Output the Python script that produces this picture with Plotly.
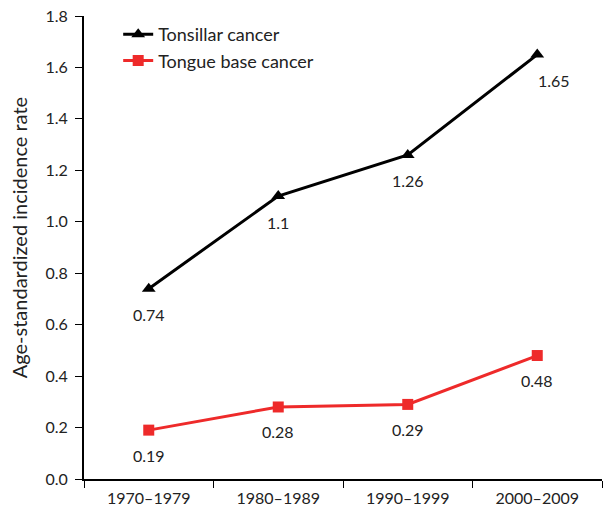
import plotly.graph_objects as go

periods = ["1970–1979", "1980–1989", "1990–1999", "2000–2009"]
tonsillar = [0.74, 1.1, 1.26, 1.65]
tongue_base = [0.19, 0.28, 0.29, 0.48]
tonsillar_labels = ["0.74", "1.1", "1.26", "1.65"]
tongue_labels = ["0.19", "0.28", "0.29", "0.48"]
y_ticks = [0.0, 0.2, 0.4, 0.6, 0.8, 1.0, 1.2, 1.4, 1.6, 1.8]
y_title = "Age-standardized incidence rate"

FONT = "Lato, Open Sans, sans-serif"
TXT = "#222222"

fig = go.Figure()
fig.add_trace(go.Scatter(
    x=periods, y=tonsillar, mode="lines+markers", name="Tonsillar cancer",
    line=dict(color="black", width=3),
    marker=dict(symbol="triangle-up", size=12, color="black"),
))
fig.add_trace(go.Scatter(
    x=periods, y=tongue_base, mode="lines+markers", name="Tongue base cancer",
    line=dict(color="#ee2a2a", width=3),
    marker=dict(symbol="square", size=11, color="#ee2a2a"),
))

for i, (p, v, t) in enumerate(zip(periods, tonsillar, tonsillar_labels)):
    fig.add_annotation(x=p, y=v, text=t, showarrow=False, yshift=-26,
                       xshift=17 if i == 3 else 0,
                       font=dict(family=FONT, size=16, color=TXT))
for i, (p, v, t) in enumerate(zip(periods, tongue_base, tongue_labels)):
    fig.add_annotation(x=p, y=v, text=t, showarrow=False, yshift=-25,
                       font=dict(family=FONT, size=16, color=TXT))

fig.add_annotation(x=0, y=0.52, xref="paper", yref="paper", text=y_title,
                   textangle=-90, showarrow=False, xanchor="center", yanchor="middle",
                   xshift=-65, font=dict(family=FONT, size=20, color=TXT))

fig.update_layout(
    width=603, height=514,
    margin=dict(l=84, r=1, t=16, b=35),
    plot_bgcolor="white", paper_bgcolor="white",
    font=dict(family=FONT, size=16, color=TXT),
    showlegend=True,
    legend=dict(x=0.066, y=1.0, xanchor="left", yanchor="top",
                bgcolor="rgba(0,0,0,0)", font=dict(family=FONT, size=18, color=TXT),
                tracegroupgap=0),
)
fig.update_xaxes(
    type="category", range=[-0.5, 3.5], automargin=False,
    showline=True, linecolor="black", linewidth=2,
    ticks="outside", tickson="boundaries", ticklen=7, tickcolor="black", tickwidth=1,
    ticklabelstandoff=4,
    showgrid=False, zeroline=False, tickfont=dict(family=FONT, size=16, color=TXT),
)
fig.update_yaxes(
    range=[0, 1.8], tickvals=y_ticks, ticktext=[f"{v:.1f}" for v in y_ticks],
    automargin=False,
    showline=True, linecolor="black", linewidth=2,
    ticks="outside", ticklen=7, tickcolor="black", tickwidth=1,
    ticklabelstandoff=4,
    showgrid=False, zeroline=False,
    tickfont=dict(family=FONT, size=16, color=TXT),
)

fig.write_html("out.html", post_script="document.body.style.margin='0';",
               config={"displayModeBar": False})
